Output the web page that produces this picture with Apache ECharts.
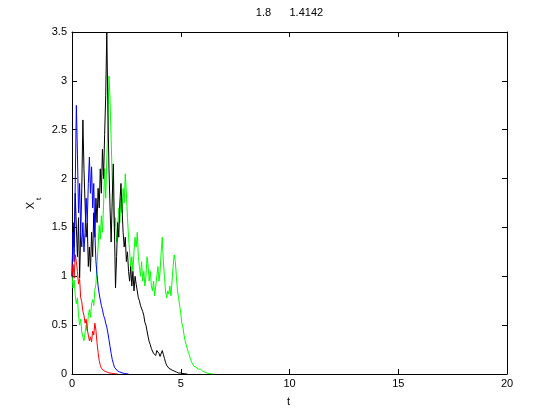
<!DOCTYPE html>
<html>
<head>
<meta charset="utf-8">
<script src="https://cdn.jsdelivr.net/npm/echarts@6/dist/echarts.min.js"></script>
<style>
html,body{margin:0;padding:0;background:#fff;}
#chart{width:560px;height:420px;}
</style>
</head>
<body>
<div id="chart"></div>
<script>
// Values: [t, X_t]
const redPath = [[0,1.0],[0.05,1.12],[0.1,0.98],[0.15,1.22],[0.2,1.15],[0.25,1.05],[0.3,0.92],[0.35,0.97],[0.4,0.78],[0.45,0.74],[0.5,0.64],[0.55,0.6],[0.6,0.52],[0.65,0.56],[0.7,0.46],[0.75,0.4],[0.8,0.34],[0.85,0.38],[0.9,0.33],[0.95,0.44],[1.0,0.4],[1.05,0.52],[1.1,0.45],[1.15,0.32],[1.2,0.22],[1.25,0.14],[1.3,0.09],[1.35,0.06],[1.4,0.05],[1.45,0.035],[1.5,0.03],[1.6,0.02],[1.7,0.012],[1.8,0.008],[1.9,0.005],[2.0,0.002],[2.1,0]];

const bluePath = [[0,1.0],[0.05,1.45],[0.1,1.15],[0.15,1.95],[0.2,2.75],[0.25,2.25],[0.3,1.65],[0.35,1.95],[0.4,1.45],[0.45,1.3],[0.5,1.55],[0.55,1.25],[0.6,1.45],[0.65,1.8],[0.7,1.55],[0.75,1.95],[0.8,2.22],[0.85,1.85],[0.9,2.12],[0.95,1.7],[1.0,1.95],[1.05,1.45],[1.1,1.15],[1.15,1.02],[1.2,0.9],[1.25,0.82],[1.3,0.76],[1.35,0.7],[1.4,0.66],[1.45,0.6],[1.5,0.57],[1.55,0.52],[1.6,0.48],[1.65,0.42],[1.7,0.35],[1.75,0.28],[1.8,0.21],[1.85,0.15],[1.9,0.11],[1.95,0.07],[2.0,0.05],[2.1,0.03],[2.2,0.02],[2.3,0.012],[2.4,0.006],[2.5,0.003],[2.6,0]];

const blackPath = [[0,1.0],[0.05,1.55],[0.1,1.3],[0.15,1.85],[0.2,1.5],[0.25,1.2],[0.3,1.6],[0.35,0.98],[0.4,1.45],[0.45,1.9],[0.5,2.6],[0.55,2.1],[0.6,1.75],[0.65,1.4],[0.7,1.55],[0.75,1.1],[0.8,1.3],[0.85,1.05],[0.9,1.45],[0.95,1.2],[1.0,1.65],[1.05,1.4],[1.1,1.8],[1.15,1.55],[1.2,1.9],[1.25,1.7],[1.3,2.1],[1.35,1.85],[1.4,2.3],[1.45,2.0],[1.5,2.45],[1.55,2.85],[1.6,3.5],[1.65,2.7],[1.7,2.1],[1.75,1.7],[1.8,1.35],[1.85,1.8],[1.9,2.15],[1.95,1.5],[2.0,0.88],[2.05,1.2],[2.1,1.55],[2.15,1.4],[2.2,1.75],[2.25,1.95],[2.3,1.7],[2.35,1.45],[2.4,1.3],[2.45,1.4],[2.5,1.15],[2.55,1.25],[2.6,1.05],[2.65,0.95],[2.7,1.1],[2.75,0.9],[2.8,1.05],[2.85,0.85],[2.9,1.0],[2.95,0.92],[3.0,0.85],[3.05,0.78],[3.1,0.75],[3.15,0.7],[3.2,0.72],[3.25,0.64],[3.3,0.6],[3.35,0.53],[3.4,0.5],[3.45,0.44],[3.5,0.38],[3.55,0.33],[3.6,0.3],[3.65,0.26],[3.7,0.24],[3.75,0.21],[3.8,0.22],[3.85,0.19],[3.9,0.24],[3.95,0.26],[4.0,0.21],[4.05,0.18],[4.1,0.2],[4.15,0.24],[4.2,0.2],[4.25,0.16],[4.3,0.12],[4.35,0.09],[4.4,0.07],[4.45,0.06],[4.5,0.05],[4.6,0.04],[4.7,0.03],[4.8,0.02],[4.9,0.01],[5.0,0.01],[5.1,0.005],[5.2,0.002],[5.3,0]];

const greenPath = [[0,1.0],[0.05,0.88],[0.1,0.96],[0.15,0.8],[0.2,0.72],[0.25,0.78],[0.3,0.6],[0.35,0.5],[0.4,0.56],[0.45,0.43],[0.5,0.38],[0.55,0.34],[0.6,0.42],[0.65,0.5],[0.7,0.44],[0.75,0.6],[0.8,0.66],[0.85,0.58],[0.9,0.72],[0.95,0.76],[1.0,0.7],[1.05,0.86],[1.1,0.92],[1.15,1.12],[1.2,1.3],[1.25,1.52],[1.3,1.38],[1.35,1.62],[1.4,1.45],[1.45,1.72],[1.5,2.1],[1.55,1.8],[1.6,2.2],[1.65,2.55],[1.7,3.05],[1.75,2.8],[1.8,2.4],[1.85,2.0],[1.9,1.7],[1.95,1.45],[2.0,1.6],[2.05,1.35],[2.1,1.5],[2.15,1.7],[2.2,1.55],[2.25,1.8],[2.3,1.65],[2.35,1.9],[2.4,1.75],[2.45,2.05],[2.5,1.85],[2.55,1.6],[2.6,1.4],[2.65,1.25],[2.7,1.1],[2.75,1.2],[2.8,1.05],[2.85,1.25],[2.9,1.4],[2.95,1.3],[3.0,1.45],[3.05,1.2],[3.1,1.1],[3.15,1.0],[3.2,1.15],[3.25,0.95],[3.3,1.05],[3.35,0.9],[3.4,1.0],[3.45,1.2],[3.5,1.1],[3.55,0.95],[3.6,1.05],[3.65,0.9],[3.7,0.85],[3.75,0.95],[3.8,0.8],[3.85,0.9],[3.9,1.0],[3.95,1.1],[4.0,0.95],[4.05,1.05],[4.1,1.25],[4.15,1.4],[4.2,1.15],[4.25,1.0],[4.3,0.85],[4.35,0.78],[4.4,0.85],[4.45,0.82],[4.5,0.9],[4.55,0.8],[4.6,0.95],[4.65,1.1],[4.7,1.22],[4.75,1.15],[4.8,1.0],[4.85,0.85],[4.9,0.78],[4.95,0.7],[5.0,0.62],[5.05,0.52],[5.1,0.48],[5.15,0.4],[5.2,0.34],[5.25,0.3],[5.3,0.26],[5.35,0.22],[5.4,0.19],[5.45,0.15],[5.5,0.12],[5.55,0.1],[5.6,0.08],[5.65,0.1],[5.7,0.07],[5.75,0.06],[5.8,0.05],[5.85,0.04],[5.9,0.05],[5.95,0.03],[6.0,0.03],[6.1,0.02],[6.2,0.01],[6.3,0.005],[6.4,0.002],[6.5,0]];

const titleText = '1.8      1.4142';
const xLabelText = 't';
const yLabelMain = 'X';
const yLabelSub = 't';

const FONT = 'Liberation Sans, Arial, Helvetica, sans-serif';

const chart = echarts.init(document.getElementById('chart'), null, {renderer: 'canvas'});

function axisBase(extra) {
  return Object.assign({
    type: 'value',
    axisLine: {show: true, onZero: false, lineStyle: {color: '#000', width: 1}},
    axisTick: {show: true, inside: true, length: 5, lineStyle: {color: '#000', width: 1}},
    splitLine: {show: false}
  }, extra);
}

const option = {
  animation: false,
  backgroundColor: '#fff',
  grid: {left: 72, top: 32, width: 435, height: 342, containLabel: false},
  xAxis: [
    axisBase({min: 0, max: 20, interval: 5, position: 'bottom',
      axisLabel: {color: '#000', fontSize: 11, fontFamily: FONT, margin: 4}}),
    axisBase({min: 0, max: 20, interval: 5, position: 'top', axisLabel: {show: false}})
  ],
  yAxis: [
    axisBase({min: 0, max: 3.5, interval: 0.5, position: 'left',
      axisLabel: {color: '#000', fontSize: 11, fontFamily: FONT, margin: 5}}),
    axisBase({min: 0, max: 3.5, interval: 0.5, position: 'right', axisLabel: {show: false}})
  ],
  series: [
    {name: 'green', data: greenPath, color: '#00ff00'},
    {name: 'black', data: blackPath, color: '#000000'},
    {name: 'blue', data: bluePath, color: '#0000ff'},
    {name: 'red', data: redPath, color: '#ff0000'}
  ].map(s => ({
    type: 'line', name: s.name, data: s.data, xAxisIndex: 0, yAxisIndex: 0,
    showSymbol: false, symbol: 'none', silent: true,
    lineStyle: {color: s.color, width: 1}, itemStyle: {color: s.color}
  })),
  graphic: [
    {type: 'text', x: 289.5, y: 13, silent: true,
      style: {text: titleText, fill: '#000', font: '11px ' + FONT, textAlign: 'center', textVerticalAlign: 'middle'}},
    {type: 'text', x: 288.5, y: 402, silent: true,
      style: {text: xLabelText, fill: '#000', font: '11px ' + FONT, textAlign: 'center', textVerticalAlign: 'middle'}},
    {type: 'text', x: 31, y: 205.5, rotation: Math.PI / 2, silent: true,
      style: {text: yLabelMain, fill: '#000', font: '11px ' + FONT, textAlign: 'center', textVerticalAlign: 'middle'}},
    {type: 'text', x: 38.5, y: 199, rotation: Math.PI / 2, silent: true,
      style: {text: yLabelSub, fill: '#000', font: '8px ' + FONT, textAlign: 'center', textVerticalAlign: 'middle'}}
  ]
};
chart.setOption(option);
</script>
</body>
</html>
